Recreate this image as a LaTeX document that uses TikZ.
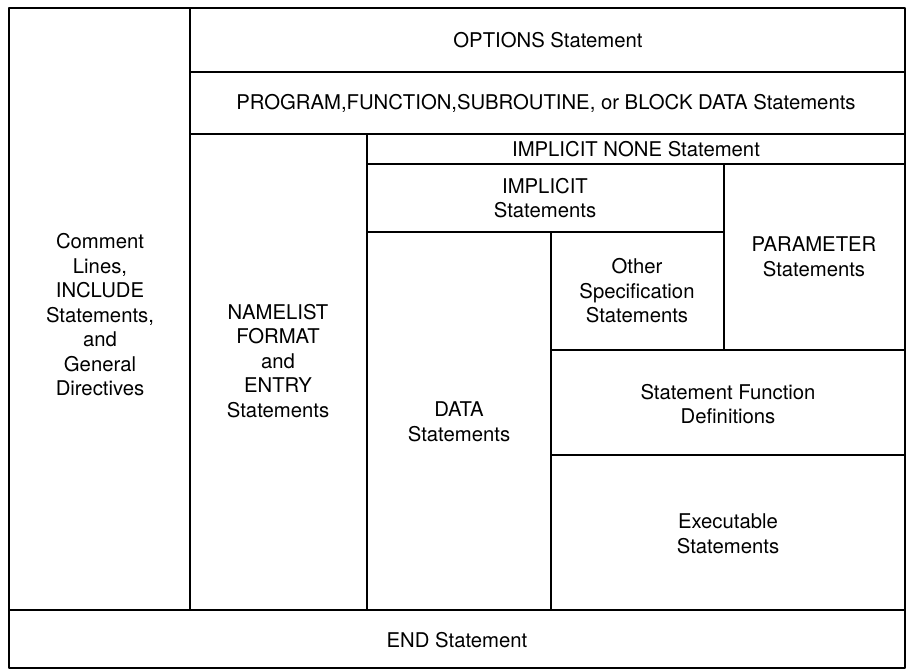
\documentclass[tikz,border=0pt]{standalone}
\usepackage{fontspec}
\setmainfont{TeX Gyre Heros}
\usetikzlibrary{calc}

\begin{document}
\begin{tikzpicture}[line join=round, line cap=round, x=1pt, y=-1pt, line width=1.8pt]
\tikzset{every node/.style={align=center, font=\fontsize{20.3}{24.5}\selectfont}}
\useasboundingbox (0,0) rectangle (909,671);
% outer frame and columns
\draw (9,8) rectangle (905,668);
\draw (9,610)--(905,610);
\draw (190,8)--(190,610);
\draw (190,72)--(905,72);
\draw (190,134)--(905,134);
\draw (367,134)--(367,610);
\draw (367,164)--(905,164);
\draw (367,232)--(724,232);
\draw (724,164)--(724,350);
\draw (551,232)--(551,610);
\draw (551,350)--(905,350);
\draw (551,455)--(905,455);
% labels
\path (100,315) node (comment) {Comment\\Lines,\\INCLUDE\\Statements,\\and\\General\\Directives};
\path (548,40) node (options) {OPTIONS Statement};
\path (546,103) node (program) {PROGRAM,FUNCTION,SUBROUTINE, or BLOCK DATA Statements};
\path (278,361) node (namelist) {NAMELIST\\FORMAT\\and\\ENTRY\\Statements};
\path (636,149) node (none) {IMPLICIT NONE Statement};
\path (545,198) node (implicit) {IMPLICIT\\Statements};
\path (814,257) node (parameter) {PARAMETER\\Statements};
\path (637,291) node (otherspec) {Other\\Specification\\Statements};
\path (459,422) node (data) {DATA\\Statements};
\path (728,404) node (stmtfn) {Statement Function\\Definitions};
\path (728,534) node (exec) {Executable\\Statements};
\path (457,640) node (endst) {END Statement};
\end{tikzpicture}
\end{document}
